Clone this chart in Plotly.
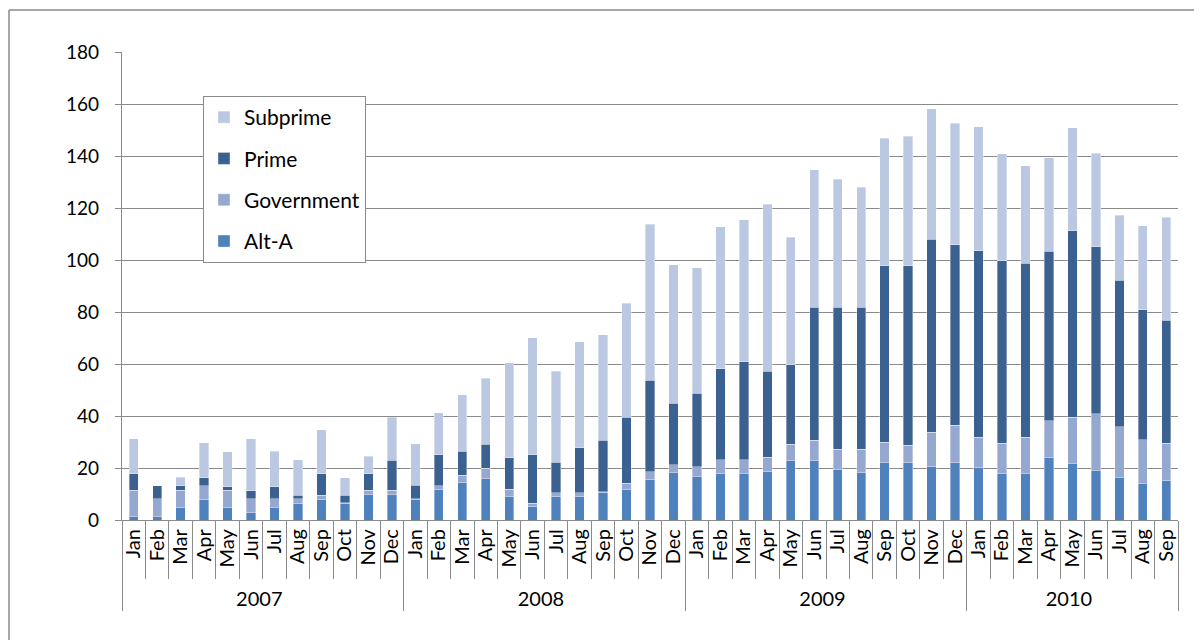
import plotly.graph_objects as go

month_names = ["Jan", "Feb", "Mar", "Apr", "May", "Jun", "Jul", "Aug", "Sep", "Oct", "Nov", "Dec"]
years = ["2007"] * 12 + ["2008"] * 12 + ["2009"] * 12 + ["2010"] * 9
months = month_names * 3 + month_names[:9]

alt_a = [1.3, 1.3, 4.7, 8.0, 4.7, 2.8, 4.7, 6.3, 8.0, 6.4, 9.7, 9.7,
         8.0, 11.7, 14.4, 15.8, 9.0, 5.1, 9.0, 9.0, 10.6, 11.7, 15.5, 18.2,
         16.7, 17.8, 17.8, 18.8, 22.8, 22.8, 19.4, 18.2, 22.1, 22.1, 20.5, 22.1,
         20.1, 17.8, 17.8, 24.0, 21.7, 19.0, 16.3, 14.0, 15.3]
government = [10.2, 6.9, 6.8, 5.1, 6.7, 5.4, 3.5, 1.8, 1.6, 0.3, 1.8, 1.8,
              0.2, 1.5, 2.8, 4.1, 2.9, 1.4, 1.4, 1.5, 0.2, 2.5, 3.0, 3.0,
              3.7, 5.4, 5.4, 5.3, 6.4, 7.8, 7.9, 9.1, 7.9, 6.6, 13.3, 14.4,
              11.7, 11.7, 14.1, 14.2, 17.9, 21.9, 19.6, 16.8, 14.2]
prime = [6.3, 4.9, 1.6, 3.2, 1.4, 3.1, 4.6, 1.5, 8.2, 2.9, 6.3, 11.5,
         5.1, 11.9, 9.3, 9.2, 12.1, 18.6, 11.9, 17.3, 19.9, 25.3, 35.3, 23.7,
         28.4, 34.9, 37.6, 33.1, 30.5, 51.3, 54.6, 54.6, 67.8, 69.1, 74.2, 69.3,
         71.7, 70.2, 66.9, 65.1, 71.7, 64.2, 56.4, 50.0, 47.4]
subprime = [13.5, 0.0, 3.3, 13.4, 13.5, 20.0, 13.6, 13.5, 16.9, 6.7, 6.8, 16.5,
            16.0, 16.2, 21.6, 25.4, 36.4, 45.0, 35.0, 40.7, 40.5, 43.8, 59.9, 53.3,
            48.3, 54.7, 54.7, 64.2, 49.1, 52.8, 49.1, 46.0, 49.1, 49.8, 50.1, 46.8,
            47.7, 41.1, 37.5, 36.1, 39.5, 35.9, 25.0, 32.3, 39.5]

y_ticks = [0, 20, 40, 60, 80, 100, 120, 140, 160, 180]

series = [
    ("Alt-A", alt_a, "#4F81BD", 4),
    ("Government", government, "#95A8D0", 3),
    ("Prime", prime, "#3B6191", 2),
    ("Subprime", subprime, "#BAC8E2", 1),
]

FONT = "Lato, 'Liberation Sans', sans-serif"
GRID = "#8A8A8A"

fig = go.Figure()
for name, vals, col, rank in series:
    fig.add_trace(go.Bar(
        x=[years, months], y=vals, name=name,
        marker=dict(color=col, line=dict(color="rgba(255,255,255,0.45)", width=0.8)),
        legendgroup=name, legendrank=rank,
    ))

frame = dict(color=GRID, width=1.5)
fig.update_layout(
    barmode="stack",
    bargap=0.6,
    width=1194, height=632,
    margin=dict(l=114, r=24, t=44, b=120),
    paper_bgcolor="white", plot_bgcolor="white",
    font=dict(family=FONT, size=19, color="black"),
    showlegend=True,
    legend=dict(
        x=0.0767, y=0.906, xanchor="left", yanchor="top",
        traceorder="grouped", tracegroupgap=11,
        bgcolor="white", bordercolor=GRID, borderwidth=1,
        font=dict(family=FONT, size=21, color="black"),
        itemwidth=30,
    ),
    xaxis=dict(
        type="multicategory",
        tickangle=-90,
        tickmode="linear", tick0=0, dtick=1,
        showline=True, linecolor=GRID, linewidth=1.3,
        ticks="outside", tickson="boundaries", ticklen=58, tickcolor=GRID, tickwidth=1,
        showdividers=True, dividercolor=GRID, dividerwidth=1,
        tickfont=dict(family=FONT, size=20, color="black"),
        showgrid=False,
    ),
    yaxis=dict(
        range=[0, 180], tickvals=y_ticks,
        showgrid=True, gridcolor=GRID, gridwidth=1.3,
        showline=True, linecolor=GRID, linewidth=1.3,
        ticks="outside", ticklen=6, tickcolor=GRID,
        ticklabelstandoff=12,
        tickfont=dict(family=FONT, size=19, color="black"),
        zeroline=False,
    ),
    shapes=[
        dict(type="line", xref="paper", yref="paper",
             x0=-0.1070, x1=1.05, y0=1.0897, y1=1.0897, line=frame),
        dict(type="line", xref="paper", yref="paper",
             x0=-0.1070, x1=-0.1070, y0=-0.3, y1=1.0897, line=frame),
    ],
)

fig.write_html("out.html", config={"displayModeBar": False})
